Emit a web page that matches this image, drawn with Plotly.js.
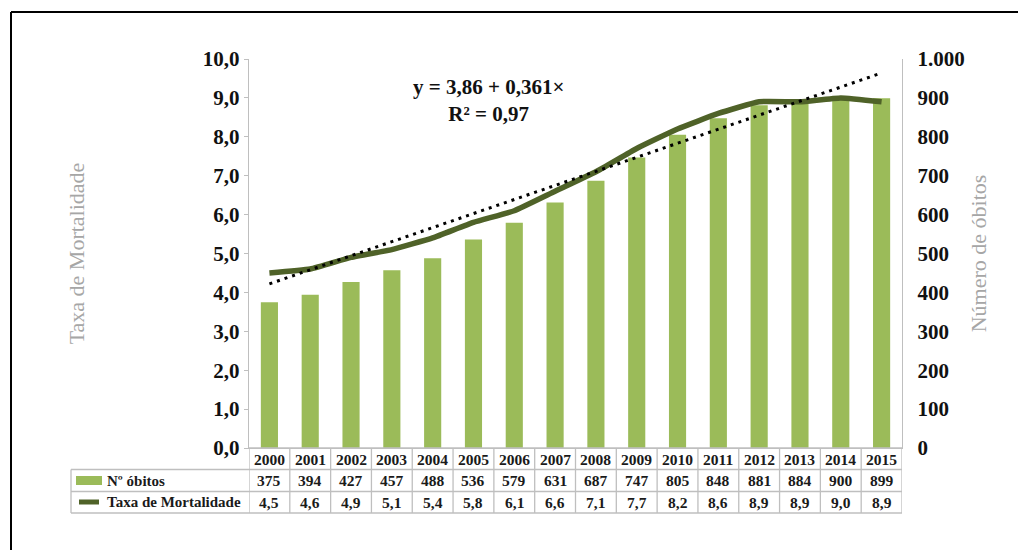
<!DOCTYPE html>
<html>
<head>
<meta charset="utf-8">
<script src="https://cdn.plot.ly/plotly-3.0.1.min.js"></script>
<style>html,body{margin:0;padding:0;background:#fff;}#chart{width:1018px;height:550px;}</style>
</head>
<body>
<div id="chart"></div>
<script>
const years = ['2000','2001','2002','2003','2004','2005','2006','2007','2008','2009','2010','2011','2012','2013','2014','2015'];
const obitos = [375,394,427,457,488,536,579,631,687,747,805,848,881,884,900,899];
const taxa = [4.5,4.6,4.9,5.1,5.4,5.8,6.1,6.6,7.1,7.7,8.2,8.6,8.9,8.9,9.0,8.9];
const taxaLabels = ['4,5','4,6','4,9','5,1','5,4','5,8','6,1','6,6','7,1','7,7','8,2','8,6','8,9','8,9','9,0','8,9'];
const trendYears = ['2000','2015'];
const trendValues = [4.22, 9.64];
const seriesNames = ['Nº óbitos','Taxa de Mortalidade'];
const equationText = 'y = 3,86 + 0,361×<br>R² = 0,97';

const W = 1018, H = 550;
const L = 249, R = 902, T = 59, B = 448;
const pw = R - L, ph = B - T;
const px = X => (X - L) / pw;
const py = Y => (B - Y) / ph;

const serif = 'Liberation Serif, Times New Roman, serif';
const grid = '#bfbfbf';
const barColor = '#9bbb59';
const lineColor = '#4f6228';

const traces = [
  {type:'bar', x:years, y:obitos, name:seriesNames[0], marker:{color:barColor}, yaxis:'y', hoverinfo:'x+y'},
  {type:'scatter', mode:'lines', x:years, y:taxa, name:seriesNames[1], yaxis:'y2', line:{color:lineColor, width:5.5, shape:'spline', smoothing:0.4}},
  {type:'scatter', mode:'lines', x:trendYears, y:trendValues, name:'Linear', yaxis:'y2', line:{color:'#000', width:3, dash:'3px,5px'}}
];

const shapes = [];
const annotations = [];
const rowY = [B, 469.5, 491.5, 513];
const lineSty = {color:grid, width:1.3};
shapes.push({type:'line', xref:'paper', yref:'paper', x0:0, x1:1, y0:py(rowY[0]), y1:py(rowY[0]), line:lineSty});
for (let k=1;k<4;k++) shapes.push({type:'line', xref:'paper', yref:'paper', x0:px(71), x1:1, y0:py(rowY[k]), y1:py(rowY[k]), line:lineSty});
shapes.push({type:'line', xref:'paper', yref:'paper', x0:px(71), x1:px(71), y0:py(rowY[1]), y1:py(rowY[3]), line:lineSty});
for (let i=0;i<=years.length;i++) {
  shapes.push({type:'line', xref:'x', yref:'paper', x0:i-0.5, x1:i-0.5, y0:py(rowY[0]), y1:py(rowY[3]), line:lineSty});
}
shapes.push({type:'rect', xref:'paper', yref:'paper', x0:px(76), x1:px(102), y0:py(476), y1:py(485), fillcolor:barColor, line:{width:0}});
shapes.push({type:'line', xref:'paper', yref:'paper', x0:px(79), x1:px(99), y0:py(502), y1:py(502), line:{color:lineColor, width:5}});
shapes.push({type:'line', xref:'paper', yref:'paper', x0:px(11), x1:px(1030), y0:py(12), y1:py(12), line:{color:'#000', width:2}});
shapes.push({type:'line', xref:'paper', yref:'paper', x0:px(11), x1:px(11), y0:py(12), y1:py(560), line:{color:'#000', width:2}});

const cellFont = {family:serif, size:15.5, color:'#1a1a1a', weight:'bold'};
years.forEach((yr,i) => {
  annotations.push({x:i, xref:'x', y:py(459), yref:'paper', text:yr, showarrow:false, font:cellFont, xanchor:'center', yanchor:'middle'});
  annotations.push({x:i, xref:'x', y:py(480.5), yref:'paper', text:String(obitos[i]), showarrow:false, font:cellFont, xanchor:'center', yanchor:'middle'});
  annotations.push({x:i, xref:'x', y:py(502), yref:'paper', text:taxaLabels[i], showarrow:false, font:cellFont, xanchor:'center', yanchor:'middle'});
});
annotations.push({x:px(105), xref:'paper', y:py(480.5), yref:'paper', text:seriesNames[0], showarrow:false, font:{family:serif, size:15, color:'#1a1a1a', weight:'bold'}, xanchor:'left', yanchor:'middle'});
annotations.push({x:px(105), xref:'paper', y:py(502), yref:'paper', text:seriesNames[1], showarrow:false, font:{family:serif, size:15, color:'#1a1a1a', weight:'bold'}, xanchor:'left', yanchor:'middle'});
annotations.push({x:px(488), xref:'paper', y:py(100), yref:'paper', text:equationText, showarrow:false, align:'center',
  font:{family:serif, size:21, color:'#111', weight:'bold'}, xanchor:'center', yanchor:'middle'});

const tickFont = {family:serif, size:21, color:'#111', weight:'bold'};
const titleFont = {family:serif, size:22, color:'#a6a6a6'};

const layout = {
  width:W, height:H,
  margin:{l:L, r:W-R, t:T, b:H-B, pad:0},
  paper_bgcolor:'#fff', plot_bgcolor:'#fff',
  separators:',.',
  showlegend:false,
  bargap:0.58,
  xaxis:{type:'category', range:[-0.5,15.5], showticklabels:false, ticks:'', showgrid:false, zeroline:false, showline:true, linecolor:grid, linewidth:1.3, fixedrange:true},
  yaxis:{side:'right', range:[0,1000], dtick:100, tickformat:',d', showgrid:false, zeroline:false, showline:true, linecolor:grid, linewidth:1.3, ticks:'', ticklabelstandoff:10,
    tickfont:tickFont, title:{text:'Número de óbitos', font:titleFont, standoff:6}},
  yaxis2:{side:'left', overlaying:'y', anchor:'x', range:[0,10], dtick:1, tickformat:'.1f', showgrid:false, zeroline:false, showline:true, linecolor:grid, linewidth:1.3,
    ticks:'outside', ticklen:4, tickcolor:grid, tickfont:tickFont, title:{text:'Taxa de Mortalidade', font:titleFont, standoff:112}},
  shapes:shapes,
  annotations:annotations
};

Plotly.newPlot('chart', traces, layout, {displayModeBar:false, staticPlot:true});
</script>
</body>
</html>
